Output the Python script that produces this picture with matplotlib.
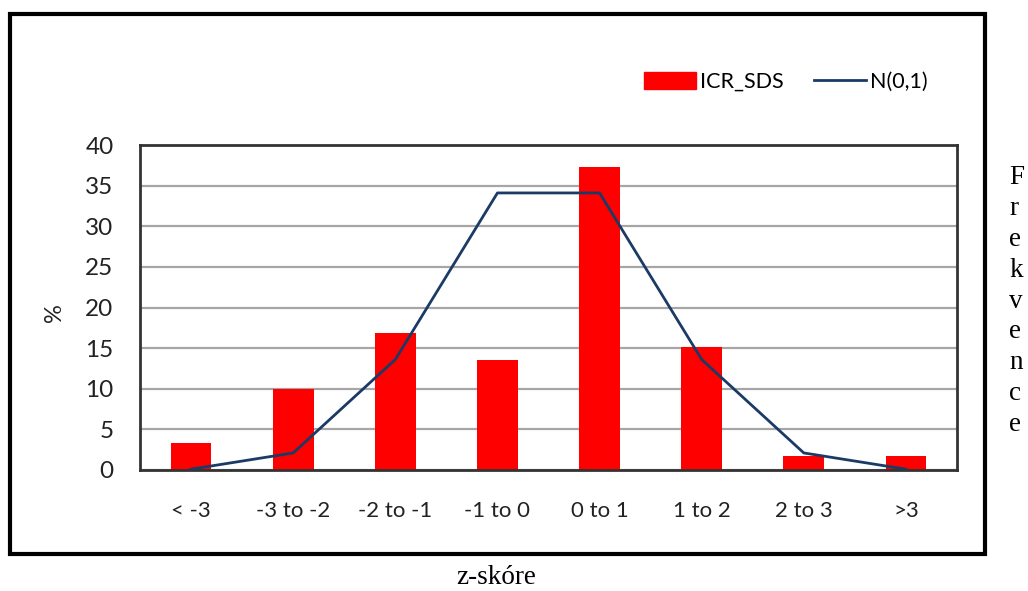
import matplotlib.pyplot as plt
from matplotlib.patches import Rectangle
from matplotlib.lines import Line2D

# data
categories = ['< -3', '-3 to -2', '-2 to -1', '-1 to 0', '0 to 1', '1 to 2', '2 to 3', '>3']
icr_sds = [3.3, 10.0, 16.9, 13.5, 37.3, 15.1, 1.7, 1.7]
normal = [0.1, 2.1, 13.6, 34.1, 34.1, 13.6, 2.1, 0.1]
y_ticks = [0, 5, 10, 15, 20, 25, 30, 35, 40]

sans = ['Lato', 'DejaVu Sans']
serif = ['Liberation Serif', 'DejaVu Serif']

fig = plt.figure(figsize=(10.28, 5.91), dpi=100)
ax = fig.add_axes([140 / 1028, 1 - 470 / 591, 817 / 1028, 325 / 591])

x = list(range(len(categories)))
ax.bar(x, icr_sds, width=0.4, color='#ff0000', zorder=2)
ax.plot(x, normal, color='#1b3a66', linewidth=2, zorder=3)

ax.set_xlim(-0.5, len(categories) - 0.5)
ax.set_ylim(0, 40)
ax.set_yticks(y_ticks)
ax.set_xticks(x)
ax.set_xticklabels(categories, family=sans, fontsize=16, color='#222222')
ax.set_yticklabels([str(v) for v in y_ticks], family=sans, fontsize=17.5, color='#222222')
ax.tick_params(axis='both', length=0)
ax.tick_params(axis='x', pad=22)
ax.tick_params(axis='y', pad=19)
ax.yaxis.grid(True, color='#a6a6a6', linewidth=1.6, zorder=0)
ax.set_axisbelow(True)
for s in ax.spines.values():
    s.set_color('#333333')
    s.set_linewidth(2)

ax.set_ylabel('%', family=sans, fontsize=17, color='#222222')
ax.yaxis.set_label_coords((65 - 140) / 817, (470 - 313) / 325)

# legend
handles = [Rectangle((0, 0), 1, 1, color='#ff0000'),
           Line2D([0], [0], color='#1b3a66', linewidth=2)]
fig.legend(handles, ['ICR_SDS', 'N(0,1)'], loc='center', bbox_to_anchor=(786 / 1028, 1 - 82 / 591),
           ncol=2, frameon=False, prop={'family': sans, 'size': 15.5},
           handlelength=2.4, handleheight=0.8, handletextpad=0.2, columnspacing=1.4)

# outer frame
fig.patches.append(Rectangle((9.5 / 1028, 1 - 553.5 / 591), 975 / 1028, 540 / 591,
                             transform=fig.transFigure, fill=False, edgecolor='black',
                             linewidth=3, zorder=10))

fig.text(496 / 1028, 1 - 577 / 591, 'z-skóre', family=serif, fontsize=19.5,
         ha='center', va='center')
fig.text(1009 / 1028, 1 - 301 / 591, '\n'.join('Frekvence'), family=serif, fontsize=19.5,
         ha='left', va='center', multialignment='left', linespacing=1.31)

fig.savefig('out.png', dpi=100)
